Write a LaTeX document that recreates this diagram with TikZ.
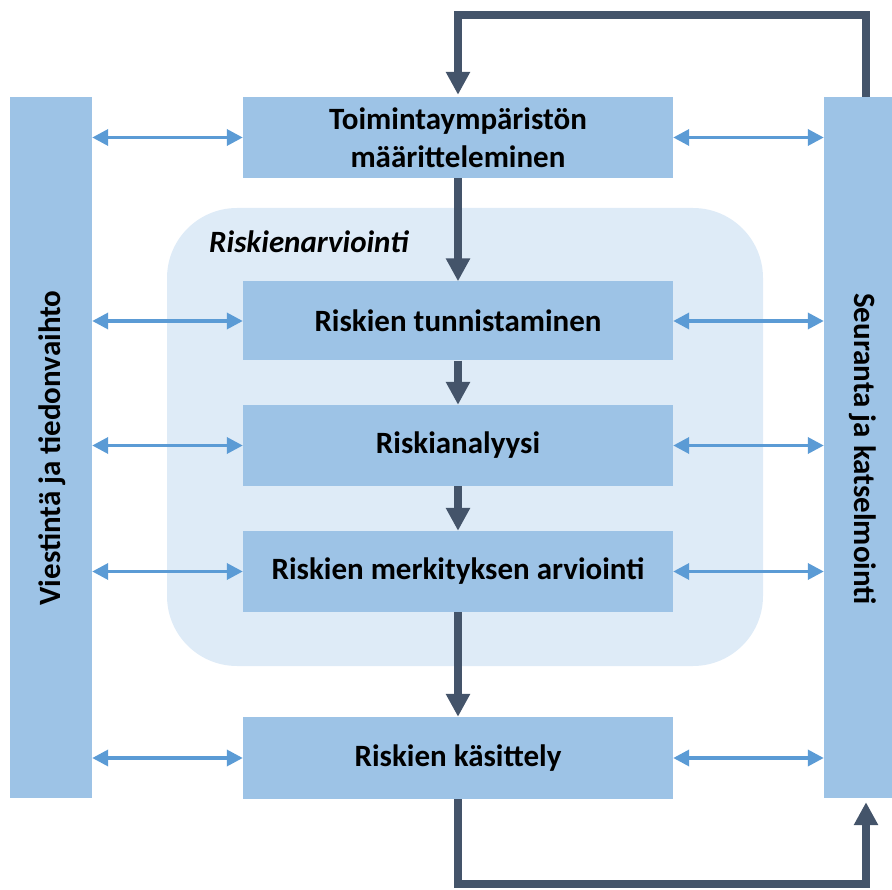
\documentclass[tikz,border=0pt]{standalone}
\usepackage{fontspec}
\setmainfont{Carlito}
\usetikzlibrary{arrows.meta}
\definecolor{boxblue}{HTML}{9DC3E6}
\definecolor{regblue}{HTML}{DEEBF7}
\definecolor{darkline}{HTML}{44546A}
\definecolor{arrblue}{HTML}{5B9BD5}
\begin{document}
\begin{tikzpicture}[x=1pt,y=-1pt,
  stepbox/.style={fill=boxblue,draw=none,minimum width=430pt,inner sep=0pt,align=center,
    font=\fontsize{31}{38}\selectfont\bfseries},
  sidebar/.style={fill=boxblue,draw=none,inner sep=0pt,minimum height=701pt},
  sidelabel/.style={font=\fontsize{31}{38}\selectfont\bfseries,inner sep=0pt},
  mainarrow/.style={draw=darkline,line width=7.5pt,-{Triangle[length=23pt,width=23pt]}},
  looparrow/.style={draw=darkline,line width=7.5pt,miter limit=10,-{Triangle[length=23pt,width=23pt]}},
  dblarrow/.style={draw=arrblue,line width=3.5pt,{Triangle[length=16pt,width=16pt]}-{Triangle[length=16pt,width=16pt]}}
]
\useasboundingbox (0,0) rectangle (892,890);
% risk assessment region
\fill[regblue,rounded corners=70pt] (167,208) rectangle (763,666);
\node[font=\fontsize{31}{38}\selectfont\bfseries\itshape,anchor=base west,inner sep=0pt] (rlabel) at (209,253) {Riskienarviointi};
% side bars
\node[sidebar,minimum width=82pt] (lb) at (51,447.5) {};
\node[sidebar,minimum width=68pt] (rb) at (858,447.5) {};
\node[sidelabel,rotate=90] (lbt) at (52,448) {Viestintä ja tiedonvaihto};
\node[sidelabel,rotate=-90] (rbt) at (863,449) {Seuranta ja katselmointi};
% steps
\node[stepbox,minimum height=81pt] (t1) at (458,137.5) {Toimintaympäristön\\määritteleminen};
\node[stepbox,minimum height=79pt] (t2) at (458,321) {Riskien tunnistaminen};
\node[stepbox,minimum height=81pt] (t3) at (458,445.5) {Riskianalyysi};
\node[stepbox,minimum height=81pt] (t4) at (458,571.5) {Riskien merkityksen arviointi};
\node[stepbox,minimum height=82pt] (t5) at (458,758) {Riskien käsittely};
% vertical flow
\draw[mainarrow] (t1.south) -- (t2.north);
\draw[mainarrow] (t2.south) -- (t3.north);
\draw[mainarrow] (t3.south) -- (t4.north);
\draw[mainarrow] (t4.south) -- (t5.north);
% loops
\coordinate (rtop) at ([xshift=8pt]rb.north);
\coordinate (rbot) at ([xshift=8pt,yshift=-4pt]rb.south);
\coordinate (t1top) at ([yshift=2pt]t1.north);
\draw[looparrow] (rtop) -- (rtop |- 0,15) -- (t1top |- 0,15) -- (t1top);
\draw[looparrow] (t5.south) -- (t5.south |- 0,884) -- (rbot |- 0,884) -- (rbot);
% double arrows
\foreach \n in {t1,t2,t3,t4,t5}{
  \draw[dblarrow] (lb.east |- \n.west) -- (\n.west);
  \draw[dblarrow] (\n.east) -- (rb.west |- \n.east);
}
\end{tikzpicture}
\end{document}
